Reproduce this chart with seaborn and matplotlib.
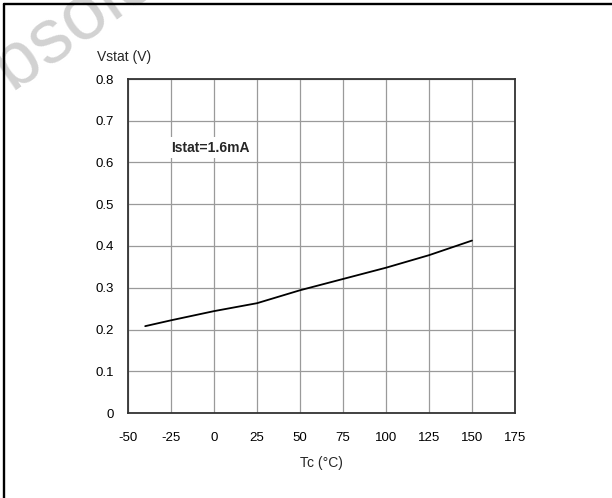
import pandas as pd
import seaborn as sns
import matplotlib.pyplot as plt
from matplotlib.lines import Line2D

tc = [-40, -25, 0, 25, 50, 75, 100, 125, 150]
vstat = [0.208, 0.222, 0.244, 0.263, 0.294, 0.321, 0.348, 0.378, 0.413]
x_ticks = [-50, -25, 0, 25, 50, 75, 100, 125, 150, 175]
y_ticks = [0, 0.1, 0.2, 0.3, 0.4, 0.5, 0.6, 0.7, 0.8]
y_tick_labels = ['0', '0.1', '0.2', '0.3', '0.4', '0.5', '0.6', '0.7', '0.8']

df = pd.DataFrame({'Tc': tc, 'Vstat': vstat})

sns.set_style('white')
plt.rcParams['font.family'] = ['Liberation Sans', 'DejaVu Sans']
plt.rcParams['axes.unicode_minus'] = False

fig = plt.figure(figsize=(6.12, 4.98), dpi=100)

# watermark, mostly off the top-left corner
fig.text(-0.0595, 0.745, 'Obsolete Product(s)', fontsize=55, color='#d2d2d2',
         rotation=35, rotation_mode='anchor', ha='left', va='baseline', zorder=0)

# frame round the figure (only top and left visible in the picture)
fig.add_artist(Line2D([4 / 612, 4 / 612], [0, 1 - 4 / 498], color='black', lw=1.7, transform=fig.transFigure))
fig.add_artist(Line2D([4 / 612, 1], [1 - 4 / 498, 1 - 4 / 498], color='black', lw=1.7, transform=fig.transFigure))

ax = fig.add_axes([128 / 612, 85 / 498, 387 / 612, 334 / 498])
ax.set_facecolor('white')
sns.lineplot(data=df, x='Tc', y='Vstat', ax=ax, color='black', lw=1.3)

ax.set_xlim(-50, 175)
ax.set_ylim(0, 0.8)
ax.set_xticks(x_ticks)
ax.set_yticks(y_ticks)
ax.set_yticklabels(y_tick_labels)
ax.grid(True, color='#9a9a9a', lw=0.9)
ax.set_axisbelow(True)
ax.tick_params(length=0, labelsize=9.5, colors='black')
ax.tick_params(axis='x', pad=14)
ax.tick_params(axis='y', pad=10)
for s in ax.spines.values():
    s.set_visible(True)
    s.set_color('#333333')
    s.set_linewidth(1.3)

ax.set_xlabel('Tc (°C)', fontsize=10, labelpad=8)
ax.set_ylabel('')
ax.text(-0.079, 1.065, 'Vstat (V)', transform=ax.transAxes, fontsize=10, ha='left', va='center')

ax.text(-25, 0.6 + 0.035, 'Istat=1.6mA', fontsize=10, fontweight='bold', ha='left', va='center',
        bbox=dict(facecolor='white', edgecolor='none', pad=2.5))

fig.savefig('out.png', dpi=100)
